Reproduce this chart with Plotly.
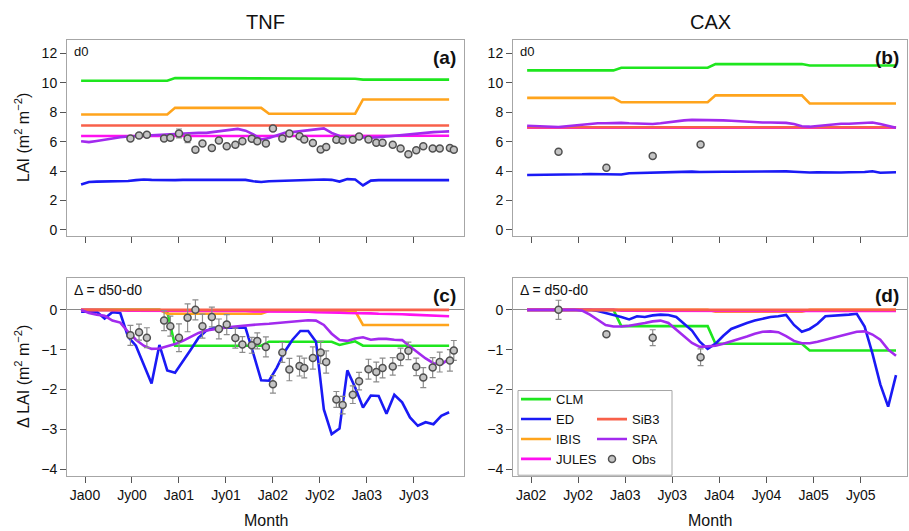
import plotly.graph_objects as go

# ---------------- data ----------------
# monthly model output, month index 0..47 (plotted at mid-month offsets)
line_months = [m - 0.5 for m in range(48)]
tick_vals = [0, 6, 12, 18, 24, 30, 36, 42]
tnf_tick_text = ["Ja00", "Jy00", "Ja01", "Jy01", "Ja02", "Jy02", "Ja03", "Jy03"]
cax_tick_text = ["Ja02", "Jy02", "Ja03", "Jy03", "Ja04", "Jy04", "Ja05", "Jy05"]

models = ["CLM", "ED", "IBIS", "JULES", "SiB3", "SPA"]
colors = {"CLM": "#1EE61E", "ED": "#1A1AF5", "IBIS": "#FFA41C",
          "JULES": "#FF10F0", "SiB3": "#F8604A", "SPA": "#A22AEE"}

# ---- TNF, d0 (panel a) ----
tnf_clm_d0 = [10.15, 10.15, 10.15, 10.15, 10.15, 10.15, 10.15, 10.15, 10.15, 10.15, 10.15, 10.15,
              10.33, 10.33, 10.33, 10.33, 10.33, 10.33, 10.33, 10.33, 10.33, 10.33, 10.33, 10.33,
              10.28, 10.28, 10.28, 10.28, 10.28, 10.28, 10.28, 10.28, 10.28, 10.28, 10.28, 10.28,
              10.22, 10.22, 10.22, 10.22, 10.22, 10.22, 10.22, 10.22, 10.22, 10.22, 10.22, 10.22]
tnf_ed_d0 = [3.08, 3.25, 3.28, 3.28, 3.30, 3.32, 3.32, 3.38, 3.42, 3.40, 3.38, 3.38,
             3.38, 3.40, 3.40, 3.40, 3.42, 3.42, 3.42, 3.42, 3.42, 3.40, 3.30, 3.25,
             3.30, 3.32, 3.35, 3.35, 3.35, 3.42, 3.42, 3.42, 3.40, 3.28, 3.45, 3.42,
             3.02, 3.35, 3.38, 3.38, 3.38, 3.40, 3.40, 3.40, 3.40, 3.40, 3.40, 3.38]
tnf_ibis_d0 = [7.85, 7.85, 7.85, 7.85, 7.85, 7.85, 7.85, 7.85, 7.85, 7.85, 7.85, 7.85,
               8.30, 8.30, 8.30, 8.30, 8.30, 8.30, 8.30, 8.30, 8.30, 8.30, 8.30, 8.30,
               7.90, 7.90, 7.90, 7.90, 7.90, 7.90, 7.90, 7.90, 7.90, 7.90, 7.90, 7.90,
               8.87, 8.87, 8.87, 8.87, 8.87, 8.87, 8.87, 8.87, 8.87, 8.87, 8.87, 8.87]
tnf_jules_d0 = [6.38, 6.38, 6.38, 6.38, 6.38, 6.38, 6.38, 6.38, 6.38, 6.38, 6.38, 6.38,
                6.38, 6.38, 6.38, 6.38, 6.38, 6.38, 6.38, 6.38, 6.38, 6.38, 6.38, 6.38,
                6.39, 6.39, 6.39, 6.39, 6.39, 6.39, 6.39, 6.39, 6.39, 6.39, 6.39, 6.39,
                6.40, 6.40, 6.40, 6.40, 6.40, 6.40, 6.40, 6.40, 6.40, 6.40, 6.40, 6.40]
tnf_sib3_d0 = [7.10, 7.10, 7.10, 7.10, 7.10, 7.10, 7.10, 7.10, 7.10, 7.10, 7.10, 7.10,
               7.10, 7.10, 7.10, 7.10, 7.10, 7.10, 7.10, 7.10, 7.10, 7.10, 7.10, 7.10,
               7.10, 7.10, 7.10, 7.10, 7.10, 7.10, 7.10, 7.10, 7.10, 7.10, 7.10, 7.10,
               7.10, 7.10, 7.10, 7.10, 7.10, 7.10, 7.10, 7.10, 7.10, 7.10, 7.10, 7.10]
tnf_spa_d0 = [6.03, 5.97, 6.05, 6.15, 6.22, 6.30, 6.35, 6.38, 6.40, 6.42, 6.45, 6.50,
              6.55, 6.58, 6.60, 6.60, 6.60, 6.65, 6.72, 6.80, 6.87, 6.75, 6.50, 6.15,
              6.25, 6.45, 6.60, 6.65, 6.72, 6.80, 6.85, 6.90, 6.60, 6.38, 6.32, 6.30,
              6.28, 6.27, 6.30, 6.35, 6.42, 6.47, 6.52, 6.58, 6.62, 6.65, 6.67, 6.70]

# ---- TNF, delta = d50 - d0 (panel c) ----
tnf_clm_dl = [0, 0, 0, 0, 0, 0, 0, 0, 0, 0, 0, -0.05,
              -0.90, -0.90, -0.90, -0.90, -0.90, -0.90, -0.90, -0.90, -0.90, -0.90, -0.90, -0.90,
              -0.80, -0.80, -0.80, -0.80, -0.80, -0.80, -0.80, -0.80, -0.80, -0.88, -0.83, -0.79,
              -0.90, -0.90, -0.90, -0.90, -0.90, -0.90, -0.90, -0.90, -0.90, -0.90, -0.90, -0.90]
tnf_ed_dl = [-0.05, -0.05, -0.05, -0.22, -0.06, -0.08, -0.68, -0.90, -1.40, -1.85, -0.88, -1.52,
             -1.58, -1.30, -1.00, -0.70, -0.52, -0.45, -0.45, -0.45, -0.45, -0.45, -1.10, -1.77,
             -1.78, -1.45, -1.05, -0.75, -0.53, -0.53, -0.80, -2.50, -3.12, -2.98, -1.52, -1.95,
             -2.45, -2.15, -2.16, -2.61, -2.13, -2.32, -2.70, -2.91, -2.82, -2.87, -2.66, -2.57]
tnf_ibis_dl = [0, 0, 0, 0, 0, 0, 0, 0, 0, 0, 0, -0.10,
               -0.10, -0.10, -0.10, -0.10, -0.10, -0.10, -0.10, -0.10, -0.10, -0.10, -0.10, -0.10,
               -0.03, -0.03, -0.03, -0.03, -0.03, -0.03, -0.03, -0.03, -0.03, -0.03, -0.03, -0.03,
               -0.38, -0.38, -0.38, -0.38, -0.38, -0.38, -0.38, -0.38, -0.38, -0.38, -0.38, -0.38]
tnf_jules_dl = [0, 0, -0.01, -0.01, -0.01, -0.01, -0.02, -0.02, -0.02, -0.02, -0.02, -0.02,
                -0.02, -0.03, -0.03, -0.03, -0.03, -0.03, -0.03, -0.03, -0.03, -0.03, -0.04, -0.04,
                -0.04, -0.04, -0.05, -0.05, -0.05, -0.05, -0.06, -0.06, -0.07, -0.07, -0.08, -0.08,
                -0.09, -0.09, -0.10, -0.10, -0.11, -0.11, -0.12, -0.13, -0.14, -0.14, -0.15, -0.16]
tnf_sib3_dl = [0, 0, 0, 0, 0, 0, 0, 0, 0, 0, 0, 0,
               0, 0, 0, 0, 0, 0, 0, 0, 0, 0, 0, 0,
               0, 0, 0, 0, 0, 0, 0, 0, 0, 0, 0, 0,
               0, 0, 0, 0, 0, 0, 0, 0, 0, 0, 0, 0]
tnf_spa_dl = [0, -0.08, -0.12, -0.15, -0.27, -0.32, -0.55, -0.75, -0.90, -0.98, -0.97, -0.92,
              -0.86, -0.78, -0.69, -0.58, -0.52, -0.49, -0.45, -0.43, -0.41, -0.39, -0.38, -0.36,
              -0.35, -0.33, -0.31, -0.29, -0.27, -0.26, -0.27, -0.38, -0.60, -0.76, -0.78, -0.72,
              -0.69, -0.75, -0.73, -0.73, -0.75, -0.76, -0.92, -1.08, -1.22, -1.34, -1.37, -1.23]

tnf_obs_months = [5.8, 6.9, 7.9, 10.1, 10.9, 12.0, 13.1, 14.1, 15.0, 16.2, 17.1, 18.1, 19.2, 20.1,
                  21.3, 22.0, 23.1, 24.0, 25.2, 26.1, 27.4, 28.0, 29.1, 30.1, 30.8, 32.1, 32.9,
                  34.2, 35.0, 36.2, 37.2, 38.0, 39.3, 40.3, 41.3, 42.3, 43.2, 44.4, 45.3, 46.6, 47.1]
tnf_obs_d0 = [6.22, 6.42, 6.47, 6.22, 6.26, 6.56, 6.22, 5.45, 5.88, 5.56, 6.08, 5.68, 5.79, 6.03,
              6.20, 6.03, 5.88, 6.90, 6.22, 6.56, 6.37, 6.15, 5.90, 5.47, 5.63, 6.13, 6.08,
              6.13, 6.35, 6.15, 5.92, 5.92, 5.79, 5.54, 5.15, 5.42, 5.69, 5.54, 5.54, 5.56, 5.45]
tnf_obs_d0_err = [0.08, 0.08, 0.08, 0.1, 0.1, 0.3, 0.28, 0.08, 0.08, 0.08, 0.08, 0.08, 0.08, 0.08,
                  0.08, 0.08, 0.08, 0.08, 0.08, 0.08, 0.08, 0.1, 0.08, 0.08, 0.08, 0.08, 0.08,
                  0.08, 0.08, 0.08, 0.08, 0.08, 0.08, 0.08, 0.08, 0.08, 0.08, 0.08, 0.08, 0.08, 0.08]
tnf_obs_dl = [-0.64, -0.56, -0.70, -0.27, -0.41, -0.70, -0.20, 0.00, -0.41, -0.18, -0.48, -0.37,
              -0.71, -0.87, -0.89, -0.78, -0.93, -1.87, -1.07, -1.50, -1.41, -1.46, -1.21, -1.07,
              -1.31, -2.25, -2.39, -2.13, -1.79, -1.49, -1.56, -1.46, -1.42, -1.18, -1.03, -1.43,
              -1.70, -1.45, -1.31, -1.27, -1.02]
tnf_obs_dl_err = [0.25, 0.2, 0.25, 0.25, 0.25, 0.35, 0.35, 0.25, 0.3, 0.25, 0.25, 0.25, 0.25, 0.2,
                  0.2, 0.2, 0.25, 0.22, 0.25, 0.28, 0.25, 0.25, 0.28, 0.28, 0.28, 0.2, 0.22,
                  0.22, 0.22, 0.25, 0.25, 0.25, 0.22, 0.22, 0.22, 0.22, 0.25, 0.25, 0.25, 0.27, 0.25]

# ---- CAX, d0 (panel b) ----
cax_clm_d0 = [10.85, 10.85, 10.85, 10.85, 10.85, 10.85, 10.85, 10.85, 10.85, 10.85, 10.85, 10.85,
              11.03, 11.03, 11.03, 11.03, 11.03, 11.03, 11.03, 11.03, 11.03, 11.03, 11.03, 11.03,
              11.28, 11.28, 11.28, 11.28, 11.28, 11.28, 11.28, 11.28, 11.28, 11.28, 11.28, 11.28,
              11.18, 11.18, 11.18, 11.18, 11.18, 11.18, 11.18, 11.18, 11.18, 11.18, 11.18, 11.18]
cax_ed_d0 = [3.73, 3.73, 3.74, 3.75, 3.76, 3.78, 3.78, 3.78, 3.80, 3.80, 3.79, 3.76,
             3.76, 3.85, 3.87, 3.86, 3.88, 3.92, 3.95, 3.96, 3.95, 3.96, 3.93, 3.95,
             3.96, 3.95, 3.95, 3.96, 3.96, 3.97, 3.96, 3.98, 3.96, 3.98, 3.95, 3.90,
             3.90, 3.92, 3.90, 3.90, 3.90, 3.92, 3.92, 3.93, 3.98, 3.88, 3.90, 3.92]
cax_ibis_d0 = [8.98, 8.98, 8.98, 8.98, 8.98, 8.98, 8.98, 8.98, 8.98, 8.98, 8.98, 8.98,
               8.68, 8.68, 8.68, 8.68, 8.68, 8.68, 8.68, 8.68, 8.68, 8.68, 8.68, 8.68,
               9.15, 9.15, 9.15, 9.15, 9.15, 9.15, 9.15, 9.15, 9.15, 9.15, 9.15, 9.15,
               8.60, 8.60, 8.60, 8.60, 8.60, 8.60, 8.60, 8.60, 8.60, 8.60, 8.60, 8.60]
cax_jules_d0 = [6.95, 6.95, 6.95, 6.95, 6.95, 6.95, 6.95, 6.95, 6.95, 6.95, 6.95, 6.95,
                6.95, 6.95, 6.95, 6.95, 6.95, 6.95, 6.95, 6.95, 6.95, 6.95, 6.95, 6.95,
                6.95, 6.95, 6.95, 6.95, 6.95, 6.95, 6.95, 6.95, 6.95, 6.95, 6.95, 6.95,
                6.95, 6.95, 6.95, 6.95, 6.95, 6.95, 6.95, 6.95, 6.95, 6.95, 6.95, 6.95]
cax_sib3_d0 = [6.98, 6.98, 6.98, 6.98, 6.98, 6.98, 6.98, 6.98, 6.98, 6.98, 6.98, 6.98,
               6.98, 6.98, 6.98, 6.98, 6.98, 6.98, 6.98, 6.98, 6.98, 6.98, 6.98, 6.98,
               6.98, 6.98, 6.98, 6.98, 6.98, 6.98, 6.98, 6.98, 6.98, 6.98, 6.98, 6.98,
               6.98, 6.98, 6.98, 6.98, 6.98, 6.98, 6.98, 6.98, 6.98, 6.98, 6.98, 6.98]
cax_spa_d0 = [7.08, 7.05, 7.02, 7.00, 7.00, 7.05, 7.10, 7.18, 7.22, 7.25, 7.25, 7.27,
              7.28, 7.25, 7.22, 7.20, 7.20, 7.25, 7.32, 7.40, 7.45, 7.48, 7.48, 7.48,
              7.48, 7.45, 7.42, 7.38, 7.33, 7.30, 7.30, 7.30, 7.30, 7.28, 7.20, 7.05,
              7.02, 7.08, 7.15, 7.20, 7.22, 7.22, 7.25, 7.28, 7.30, 7.20, 7.05, 6.95]

# ---- CAX, delta (panel d) ----
cax_clm_dl = [0, 0, 0, 0, 0, 0, 0, 0, 0, 0, 0, 0,
              -0.41, -0.41, -0.41, -0.41, -0.41, -0.41, -0.41, -0.41, -0.41, -0.41, -0.41, -0.41,
              -0.85, -0.85, -0.85, -0.85, -0.85, -0.85, -0.85, -0.85, -0.85, -0.85, -0.85, -0.85,
              -1.02, -1.02, -1.02, -1.02, -1.02, -1.02, -1.02, -1.02, -1.02, -1.02, -1.02, -1.02]
cax_ed_dl = [0, 0, 0, 0, 0, 0, 0, 0, 0, -0.03, -0.08, -0.12,
             -0.18, -0.24, -0.16, -0.18, -0.14, -0.12, -0.13, -0.18, -0.35, -0.52, -0.80, -0.98,
             -0.85, -0.65, -0.48, -0.40, -0.33, -0.27, -0.22, -0.18, -0.16, -0.13, -0.38, -0.55,
             -0.48, -0.35, -0.16, -0.15, -0.13, -0.12, -0.10, -0.42, -1.10, -1.87, -2.43, -1.64]
cax_ibis_dl = [0, 0, 0, 0, 0, 0, 0, 0, 0, 0, 0, 0,
               0, 0, 0, 0, 0, 0, 0, 0, 0, 0, 0, 0,
               -0.05, -0.05, -0.05, -0.05, -0.05, -0.05, -0.05, -0.05, -0.05, -0.05, -0.05, -0.05,
               0, 0, 0, 0, 0, 0, 0, 0, 0, 0, 0, 0]
cax_jules_dl = [0, 0, 0, 0, 0, 0, 0, 0, 0, 0, 0, 0,
                -0.02, -0.02, -0.02, -0.02, -0.02, -0.02, -0.02, -0.02, -0.02, -0.02, -0.02, -0.02,
                -0.02, -0.02, -0.02, -0.02, -0.02, -0.02, -0.02, -0.02, -0.02, -0.02, -0.02, -0.02,
                -0.03, -0.03, -0.03, -0.03, -0.03, -0.03, -0.03, -0.03, -0.03, -0.03, -0.03, -0.03]
cax_sib3_dl = [0, 0, 0, 0, 0, 0, 0, 0, 0, 0, 0, 0,
               0, 0, 0, 0, 0, 0, 0, 0, 0, 0, 0, 0,
               0, 0, 0, 0, 0, 0, 0, 0, 0, 0, 0, 0,
               0, 0, 0, 0, 0, 0, 0, 0, 0, 0, 0, 0]
cax_spa_dl = [0, 0, 0, 0, 0, 0, 0, -0.02, -0.12, -0.25, -0.38, -0.42,
              -0.42, -0.40, -0.37, -0.33, -0.29, -0.27, -0.33, -0.50, -0.68, -0.83, -0.93, -0.92,
              -0.90, -0.85, -0.79, -0.74, -0.67, -0.60, -0.55, -0.54, -0.56, -0.66, -0.78, -0.84,
              -0.84, -0.80, -0.75, -0.70, -0.65, -0.60, -0.55, -0.54, -0.62, -0.75, -1.00, -1.15]

cax_obs_months = [3.5, 9.6, 15.5, 21.6]
cax_obs_d0 = [5.31, 4.23, 5.02, 5.81]
cax_obs_d0_err = [0.05, 0.05, 0.05, 0.05]
cax_obs_dl = [0.0, -0.61, -0.70, -1.19]
cax_obs_dl_err = [0.24, 0.05, 0.20, 0.21]

# ---------------- figure ----------------
FONT = "Liberation Sans, Arial, sans-serif"
W, H = 909, 531

panels = [
    dict(ax="", series=[tnf_clm_d0, tnf_ed_d0, tnf_ibis_d0, tnf_jules_d0, tnf_sib3_d0, tnf_spa_d0],
         om=tnf_obs_months, ov=tnf_obs_d0, oe=tnf_obs_d0_err, legend=False),
    dict(ax="2", series=[cax_clm_d0, cax_ed_d0, cax_ibis_d0, cax_jules_d0, cax_sib3_d0, cax_spa_d0],
         om=cax_obs_months, ov=cax_obs_d0, oe=cax_obs_d0_err, legend=False),
    dict(ax="3", series=[tnf_clm_dl, tnf_ed_dl, tnf_ibis_dl, tnf_jules_dl, tnf_sib3_dl, tnf_spa_dl],
         om=tnf_obs_months, ov=tnf_obs_dl, oe=tnf_obs_dl_err, legend=False),
    dict(ax="4", series=[cax_clm_dl, cax_ed_dl, cax_ibis_dl, cax_jules_dl, cax_sib3_dl, cax_spa_dl],
         om=cax_obs_months, ov=cax_obs_dl, oe=cax_obs_dl_err, legend=True),
]

legend_of = {"CLM": "legend", "ED": "legend", "IBIS": "legend", "JULES": "legend",
             "SiB3": "legend2", "SPA": "legend2"}

fig = go.Figure()
for p in panels:
    xa, ya = "x" + p["ax"], "y" + p["ax"]
    for name, vals in zip(models, p["series"]):
        fig.add_trace(go.Scatter(
            x=line_months, y=vals, mode="lines", name=name,
            line=dict(color=colors[name], width=2.6),
            xaxis=xa, yaxis=ya, showlegend=p["legend"], legend=legend_of[name],
            hoverinfo="skip"))
    fig.add_trace(go.Scatter(
        x=p["om"], y=p["ov"], mode="markers", name="Obs",
        marker=dict(symbol="circle", size=7, color="#C4C4C4",
                    line=dict(color="#505050", width=1.5)),
        error_y=dict(type="data", array=p["oe"], color="#8C8C8C", thickness=1.2, width=3),
        xaxis=xa, yaxis=ya, showlegend=p["legend"], legend="legend2", hoverinfo="skip"))

# panel geometry in pixels -> paper
def px_x(v):
    return v / W

def px_y(v):
    return 1 - v / H

left_dom = [px_x(67), px_x(464)]
right_dom = [px_x(513), px_x(907)]
top_dom = [px_y(237), px_y(40)]
bot_dom = [px_y(478), px_y(279)]

axis_common = dict(showline=True, mirror=True, linecolor="#A6A6A6", linewidth=1,
                   showgrid=False, ticks="outside", ticklen=6, tickcolor="#555555",
                   tickfont=dict(family=FONT, size=14, color="#111111"), zeroline=False)

def xaxis(dom, anchor, labels, show):
    d = dict(axis_common)
    d.update(domain=dom, anchor=anchor, range=[-2.3, 48.4] if dom is left_dom else [-2.3, 47.9],
             tickmode="array", tickvals=tick_vals, ticktext=labels, showticklabels=show)
    return d

def yaxis(dom, anchor, delta):
    d = dict(axis_common)
    if delta:
        d.update(domain=dom, anchor=anchor, range=[-4.175, 0.8], tickmode="array",
                 tickvals=[-4, -3, -2, -1, 0], zeroline=True, zerolinecolor="#8A8A8A",
                 zerolinewidth=1)
    else:
        d.update(domain=dom, anchor=anchor, range=[-0.43, 12.93], tickmode="array",
                 tickvals=[0, 2, 4, 6, 8, 10, 12])
    return d

fig.update_layout(
    width=W, height=H, margin=dict(l=0, r=0, t=0, b=0),
    paper_bgcolor="white", plot_bgcolor="white",
    font=dict(family=FONT, size=14, color="#111111"),
    xaxis=xaxis(left_dom, "y", tnf_tick_text, False),
    yaxis=yaxis(top_dom, "x", False),
    xaxis2=xaxis(right_dom, "y2", cax_tick_text, False),
    yaxis2=yaxis(top_dom, "x2", False),
    xaxis3=xaxis(left_dom, "y3", tnf_tick_text, True),
    yaxis3=yaxis(bot_dom, "x3", True),
    xaxis4=xaxis(right_dom, "y4", cax_tick_text, True),
    yaxis4=yaxis(bot_dom, "x4", True),
    legend=dict(x=px_x(516), y=px_y(476), xanchor="left", yanchor="bottom",
                bgcolor="rgba(0,0,0,0)", borderwidth=0, tracegroupgap=0,
                font=dict(family=FONT, size=13, color="#111111"), itemwidth=30),
    legend2=dict(x=px_x(592), y=px_y(476), xanchor="left", yanchor="bottom",
                 bgcolor="rgba(0,0,0,0)", borderwidth=0, tracegroupgap=0,
                 font=dict(family=FONT, size=13, color="#111111"), itemwidth=30),
    showlegend=True,
)

# legend frame
fig.add_shape(type="rect", xref="paper", yref="paper",
              x0=px_x(518), x1=px_x(672), y0=px_y(477), y1=px_y(392),
              line=dict(color="#A6A6A6", width=1), fillcolor="rgba(255,255,255,0)", layer="below")

ann = []
# column titles
ann.append(dict(text="TNF", x=(left_dom[0] + left_dom[1]) / 2, y=px_y(22), xref="paper", yref="paper",
                showarrow=False, font=dict(size=20), xanchor="center", yanchor="middle"))
ann.append(dict(text="CAX", x=(right_dom[0] + right_dom[1]) / 2, y=px_y(22), xref="paper", yref="paper",
                showarrow=False, font=dict(size=20), xanchor="center", yanchor="middle"))
# x titles
for dom in (left_dom, right_dom):
    ann.append(dict(text="Month", x=(dom[0] + dom[1]) / 2, y=px_y(522), xref="paper", yref="paper",
                    showarrow=False, font=dict(size=16), xanchor="center", yanchor="middle"))
# y titles
ann.append(dict(text="LAI (m<sup>2</sup> m<sup>\u22122</sup>)", x=px_x(22), y=(top_dom[0] + top_dom[1]) / 2,
                xref="paper", yref="paper", showarrow=False, textangle=-90,
                font=dict(size=16), xanchor="center", yanchor="middle"))
ann.append(dict(text="\u0394 LAI (m<sup>2</sup> m<sup>\u22122</sup>)", x=px_x(22), y=(bot_dom[0] + bot_dom[1]) / 2,
                xref="paper", yref="paper", showarrow=False, textangle=-90,
                font=dict(size=16), xanchor="center", yanchor="middle"))
# panel labels
for sfx, tag, note in [("", "(a)", "d0"), ("2", "(b)", "d0"),
                       ("3", "(c)", "\u0394 = d50-d0"), ("4", "(d)", "\u0394 = d50-d0")]:
    xr = ("x" + sfx) + " domain"
    yr = ("y" + sfx) + " domain"
    ann.append(dict(text="<b>" + tag + "</b>", x=0.985, y=0.975, xref=xr, yref=yr, showarrow=False,
                    font=dict(size=19), xanchor="right", yanchor="top"))
    ann.append(dict(text=note, x=0.012, y=0.99, xref=xr, yref=yr, showarrow=False,
                    font=dict(size=14 if sfx in ("3", "4") else 13), xanchor="left", yanchor="top"))

fig.update_layout(annotations=ann)

fig.write_html("out.html", config={"displayModeBar": False})
